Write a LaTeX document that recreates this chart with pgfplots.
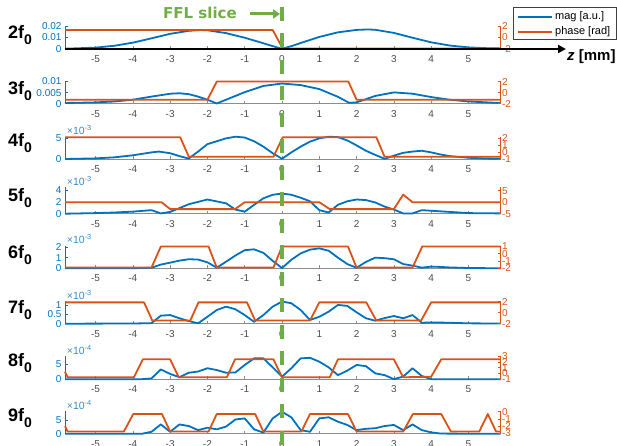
\documentclass[border=0pt]{standalone}
\usepackage{fontspec}
\setmainfont{Liberation Sans}
\newfontfamily\djv{DejaVu Sans}
\usepackage{pgfplots}
\pgfplotsset{compat=1.18}
\usetikzlibrary{arrows.meta}
\definecolor{mblue}{RGB}{0,114,189}
\definecolor{morange}{RGB}{217,83,25}
\definecolor{ffl}{RGB}{112,173,71}
\newcommand{\tf}{\fontsize{10}{12}\selectfont}
\pgfplotsset{
 base/.style={scale only axis, width=435.5pt, xmin=-5.82, xmax=5.86, clip=false, anchor=south west,
   /pgf/number format/assume math mode=true, axis line style={-}, major tick length=3pt},
 L/.style={base, axis x line=bottom, axis y line=left,
   x axis line style={-,black!45,line width=0.5pt}, y axis line style={-,mblue,line width=0.6pt},
   xtick={-5,...,5}, xtick style={black!45,line width=0.5pt}, ytick style={mblue,line width=0.5pt},
   xticklabel style={font=\tf, text=black!70, yshift=-3pt}, yticklabel style={font=\tf, text=mblue},
   scaled y ticks=false, ymin=0, xtick align=inside, ytick align=inside},
 R/.style={base, axis x line=none, axis y line=right,
   y axis line style={-,morange,line width=0.6pt}, ytick style={morange,line width=0.5pt},
   yticklabel style={font=\tf, text=morange, xshift=-2pt}, ytick align=inside},
 bl/.style={mblue, line width=1.8pt, line join=round},
 rd/.style={morange, line width=1.8pt, line join=round},
}
\newcommand{\sci}[1]{\node[anchor=south west, inner sep=0pt, font=\fontsize{10.5}{11}\selectfont, text=mblue!80, xshift=1.7pt, yshift=1.5pt] at (rel axis cs:0,1) {×10\textsuperscript{-#1}};}
\newcommand{\lab}[2]{\node[anchor=base west, inner sep=0pt, font=\bfseries\fontsize{18}{18}\selectfont] at (8pt,#2pt) {#1f\raisebox{-6pt}{\fontsize{14}{14}\selectfont 0}};}
\begin{document}
\begin{tikzpicture}[x=1pt,y=1pt]
\useasboundingbox (0pt,0pt) rectangle (617pt,445pt);
% ---------- 2f0
\begin{axis}[L, at={(65pt,396pt)}, height=23pt, ymax=0.02, ytick={0,0.01,0.02}, yticklabels={0,0.01,0.02}]
\addplot[bl] coordinates {(-5.82,0.0003) (-5.5,0.0006) (-5,0.0012) (-4.5,0.0028) (-4,0.0055) (-3.5,0.0093) (-3,0.0132) (-2.5,0.0158) (-2.2,0.0165) (-2,0.0163) (-1.5,0.0138) (-1,0.0098) (-0.5,0.0050) (-0.25,0.0025) (0,0.0002) (0.25,0.0025) (0.5,0.0052) (1,0.0105) (1.5,0.0145) (2,0.0166) (2.3,0.0170) (2.5,0.0167) (3,0.0140) (3.5,0.0098) (4,0.0058) (4.5,0.0030) (5,0.0014) (5.5,0.0007) (5.86,0.0005)};
\end{axis}
\begin{axis}[R, at={(65pt,396pt)}, height=23pt, ymin=-2, ymax=2, ytick={-2,0,2}]
\addplot[rd] coordinates {(-5.82,1.3) (-0.25,1.3) (0.02,-1.9) (5.86,-1.9)};
\end{axis}
% ---------- 3f0
\begin{axis}[L, at={(65pt,341.3pt)}, height=22.4pt, ymax=0.0101, ytick={0,0.005,0.01}, yticklabels={0,0.005,0.01}]
\addplot[bl] coordinates {(-5.82,0.0003) (-5,0.0006) (-4.5,0.0010) (-4,0.0018) (-3.5,0.0032) (-3,0.0045) (-2.75,0.0047) (-2.5,0.0043) (-2.25,0.0032) (-2,0.0018) (-1.75,0.0001) (-1.5,0.0018) (-1,0.0052) (-0.5,0.0080) (0,0.0091) (0.5,0.0084) (1,0.0066) (1.5,0.0031) (1.8,0.0004) (2,0.0006) (2.5,0.0035) (3,0.0051) (3.5,0.0045) (4,0.0030) (4.5,0.0018) (5,0.0010) (5.86,0.0003)};
\end{axis}
\begin{axis}[R, at={(65pt,341.3pt)}, height=22.4pt, ymin=-2, ymax=2.05, ytick={-2,0,2}]
\addplot[rd] coordinates {(-5.82,-1.28) (-2.0,-1.28) (-1.75,2.0) (1.78,2.0) (2.0,-1.28) (5.86,-1.28)};
\end{axis}
% ---------- 4f0
\begin{axis}[L, at={(65pt,286pt)}, height=22.3pt, ymax=5.4, ytick={0,5}]
\addplot[bl] coordinates {(-5.82,0) (-5,0.15) (-4.5,0.4) (-4,0.9) (-3.5,1.6) (-3.3,1.8) (-3,1.4) (-2.75,0.7) (-2.5,0.1) (-2.25,1.8) (-2,3.6) (-1.5,5.0) (-1.25,5.4) (-1,5.2) (-0.75,4.3) (-0.5,3.0) (-0.25,1.4) (0,0.05) (0.25,1.6) (0.5,3.0) (0.75,4.2) (1,5.0) (1.25,5.4) (1.5,5.3) (1.75,4.5) (2,3.3) (2.25,2.0) (2.5,1.0) (2.75,0.05) (3,0.8) (3.25,1.5) (3.5,1.8) (3.75,2.0) (4,1.6) (4.25,1.1) (4.5,0.7) (5,0.3) (5.5,0.1) (5.86,0.05)};
\sci{3}
\end{axis}
\begin{axis}[R, at={(65pt,286pt)}, height=22.3pt, ymin=-1, ymax=2.23, ytick={-1,0,1,2}]
\addplot[rd] coordinates {(-5.82,2.15) (-2.73,2.15) (-2.5,-0.67) (-0.23,-0.67) (0.02,2.15) (2.53,2.15) (2.75,-0.67) (5.86,-0.67)};
\end{axis}
% ---------- 5f0
\begin{axis}[L, at={(65pt,231.3pt)}, height=26.4pt, ymax=4.46, ytick={0,2,4}]
\addplot[bl] coordinates {(-5.82,0) (-5,0.1) (-4.5,0.2) (-4,0.35) (-3.5,0.6) (-3.25,0.05) (-3,0.3) (-2.5,1.6) (-2,2.4) (-1.5,1.75) (-1.25,0.7) (-1,0.35) (-0.75,1.5) (-0.5,2.6) (-0.25,3.2) (0,3.4) (0.25,3.2) (0.5,2.7) (0.75,2.1) (1,0.6) (1.25,0.2) (1.5,1.5) (1.75,2.1) (2,2.4) (2.25,2.3) (2.5,1.9) (2.75,1.2) (3,0.7) (3.25,0.05) (3.5,0.05) (3.75,0.6) (4,0.5) (4.5,0.3) (5,0.1) (5.86,0.05)};
\sci{3}
\end{axis}
\begin{axis}[R, at={(65pt,231.3pt)}, height=26.4pt, ymin=-5, ymax=6.5, ytick={-5,0,5}]
\addplot[rd] coordinates {(-5.82,0) (-3.23,0) (-3.0,-3) (-1.26,-3) (-1.0,0) (1.0,0) (1.28,-3) (3.0,-3) (3.25,3.3) (3.5,0) (5.86,0)};
\end{axis}
% ---------- 6f0
\begin{axis}[L, at={(65pt,176.7pt)}, height=22.6pt, ymax=2.12, ytick={0,1,2}]
\addplot[bl] coordinates {(-5.82,0) (-4,0.01) (-3.5,0.05) (-3.25,0.35) (-3,0.53) (-2.75,0.72) (-2.5,0.85) (-2.25,0.82) (-2,0.56) (-1.75,0.06) (-1.5,0.62) (-1.25,1.2) (-1,1.7) (-0.75,1.78) (-0.5,1.45) (-0.25,0.7) (0,0.02) (0.25,0.8) (0.5,1.4) (0.75,1.75) (1,1.87) (1.25,1.65) (1.5,1.0) (1.75,0.4) (2,0.05) (2.25,0.6) (2.5,1.0) (2.75,0.95) (3,0.85) (3.25,0.4) (3.5,0.25) (3.75,0.06) (4,0.16) (4.25,0.13) (4.5,0.08) (5,0.03) (5.86,0)};
\sci{3}
\end{axis}
\begin{axis}[R, at={(65pt,176.7pt)}, height=22.6pt, ymin=-2.05, ymax=1.12, ytick={-2,-1,0,1}]
\addplot[rd] coordinates {(-5.82,-1.95) (-3.5,-1.95) (-3.25,1.0) (-1.97,1.0) (-1.75,-1.95) (-0.23,-1.95) (0.0,1.0) (1.77,1.0) (2.0,-1.95) (3.5,-1.95) (3.76,1.0) (5.86,1.0)};
\end{axis}
% ---------- 7f0
\begin{axis}[L, at={(65pt,121.3pt)}, height=22.7pt, ymax=1.21, ytick={0,0.5,1}, yticklabels={0,0.5,1}]
\addplot[bl] coordinates {(-5.82,0) (-4,0.01) (-3.5,0.03) (-3.25,0.43) (-3,0.46) (-2.75,0.29) (-2.5,0.14) (-2.25,0.02) (-2,0.37) (-1.75,0.73) (-1.5,0.91) (-1.25,0.77) (-1,0.46) (-0.75,0.1) (-0.5,0.46) (-0.25,0.91) (0,1.18) (0.25,1.09) (0.5,0.73) (0.75,0.2) (1,0.37) (1.25,0.64) (1.5,1.0) (1.75,0.95) (2,0.61) (2.25,0.29) (2.5,0.16) (2.75,0.3) (3,0.41) (3.25,0.29) (3.5,0.46) (3.75,0.05) (4,0.07) (4.5,0.05) (5,0.02) (5.86,0.01)};
\sci{3}
\end{axis}
\begin{axis}[R, at={(65pt,121.3pt)}, height=22.7pt, ymin=-2, ymax=2.1, ytick={-2,0,2}]
\addplot[rd] coordinates {(-5.82,1.85) (-3.7,1.85) (-3.48,-1.43) (-2.46,-1.43) (-2.24,1.85) (-0.94,1.85) (-0.72,-1.43) (0.75,-1.43) (1.0,1.85) (2.26,1.85) (2.53,-1.43) (3.73,-1.43) (4.0,1.85) (5.86,1.85)};
\end{axis}
% ---------- 8f0
\begin{axis}[L, at={(65pt,65.7pt)}, height=23.3pt, ymax=7.8, ytick={0,5}]
\addplot[bl] coordinates {(-5.82,0) (-4,0) (-3.75,0.05) (-3.5,0.3) (-3.25,3.3) (-3,1.8) (-2.75,0.7) (-2.5,2.2) (-2.25,2.6) (-2,3.7) (-1.75,3.1) (-1.5,2.2) (-1.25,2.3) (-1,4.8) (-0.75,7.0) (-0.5,7.0) (-0.25,4.0) (0,0.9) (0.25,3.7) (0.5,7.0) (0.75,7.2) (1,5.9) (1.25,4.0) (1.5,1.4) (1.75,2.9) (2,4.8) (2.25,4.4) (2.5,2.0) (2.75,1.4) (3,0.05) (3.25,0.9) (3.5,3.7) (3.75,1.1) (4,0.05) (4.5,0.02) (5,0) (5.86,0)};
\sci{4}
\end{axis}
\begin{axis}[R, at={(65pt,65.7pt)}, height=23.3pt, ymin=-1, ymax=3, ytick={-1,0,1,2,3}]
\addplot[rd] coordinates {(-5.82,0.3) (-5.75,-0.65) (-3.97,-0.65) (-3.73,2.43) (-3.0,2.43) (-2.77,-0.65) (-1.48,-0.65) (-1.26,2.43) (-0.23,2.43) (0.0,-0.65) (1.28,-0.65) (1.5,2.43) (3.0,2.43) (3.25,-0.65) (4.0,-0.55) (4.27,2.43) (5.86,2.43)};
\end{axis}
% ---------- 9f0
\begin{axis}[L, at={(65pt,11.3pt)}, height=22.7pt, ymax=8.3, ytick={0,5}]
\addplot[bl] coordinates {(-5.82,0) (-3.75,0) (-3.5,0.7) (-3.25,3.4) (-3,0.7) (-2.75,3.4) (-2.5,2.8) (-2.25,1.3) (-2,2.2) (-1.75,1.6) (-1.5,2.6) (-1.25,5.2) (-1,5.6) (-0.75,1.6) (-0.5,0.4) (-0.25,5.6) (0,8.0) (0.25,6.0) (0.5,1.3) (0.75,0.7) (1,5.6) (1.25,6.0) (1.5,4.4) (1.75,3.2) (2,1.3) (2.25,1.8) (2.5,2.0) (2.75,2.8) (3,3.2) (3.25,1.3) (3.5,3.4) (3.75,1.3) (4,0.5) (4.25,0.05) (5,0) (5.86,0)};
\sci{4}
\end{axis}
\begin{axis}[R, at={(65pt,11.3pt)}, height=22.7pt, ymin=-3.05, ymax=0.1, ytick={-3,-2,-1,0}]
\addplot[rd] coordinates {(-5.82,-2.0) (-5.75,-2.75) (-4.24,-2.75) (-3.99,-0.32) (-3.22,-0.32) (-3.0,-2.75) (-1.97,-2.75) (-1.75,-0.32) (-0.72,-0.32) (-0.5,-2.75) (0.52,-2.75) (0.75,-0.32) (1.77,-0.32) (2.0,-2.75) (3.25,-2.75) (3.51,-0.32) (4.27,-0.32) (4.53,-2.75) (5.29,-2.75) (5.52,-0.32) (5.74,-2.75) (5.86,-2.75)};
\end{axis}
% ---------- annotations
\draw[black, line width=2.3pt, -{Triangle[length=8pt,width=8pt]}] (65pt,396pt) -- (566pt,396pt);
\node[anchor=west, inner sep=0pt, font=\bfseries\fontsize{15}{15}\selectfont] at (567pt,388pt) {\textit{z} [mm]};
\lab{2}{406.7}
\lab{3}{350}
\lab{4}{298.3}
\lab{5}{243.3}
\lab{6}{186.7}
\lab{7}{131.7}
\lab{8}{79}
\lab{9}{23.3}
\draw[ffl, line width=3.5pt, dash pattern=on 14pt off 12.5pt] (282pt,438.3pt) -- (282pt,-5pt);
\draw[ffl, line width=3pt, -{Triangle[length=7pt,width=9pt]}] (250pt,431pt) -- (280pt,431pt);
\node[anchor=west, inner sep=0pt, font=\djv\bfseries\fontsize{15}{15}\selectfont, text=ffl] at (163pt,431.7pt) {FFL slice};
% legend
\draw[black!75, line width=0.5pt, fill=white] (513pt,437.7pt) rectangle (616.5pt,405.7pt);
\draw[mblue, line width=1.8pt] (518pt,428.3pt) -- (552pt,428.3pt);
\draw[morange, line width=1.8pt] (518pt,413.3pt) -- (552pt,413.3pt);
\node[anchor=west, inner sep=0pt, font=\fontsize{11}{12}\selectfont] at (555pt,428.3pt) {mag [a.u.]};
\node[anchor=west, inner sep=0pt, font=\fontsize{11}{12}\selectfont] at (555pt,413.3pt) {phase [rad]};
\end{tikzpicture}
\end{document}
